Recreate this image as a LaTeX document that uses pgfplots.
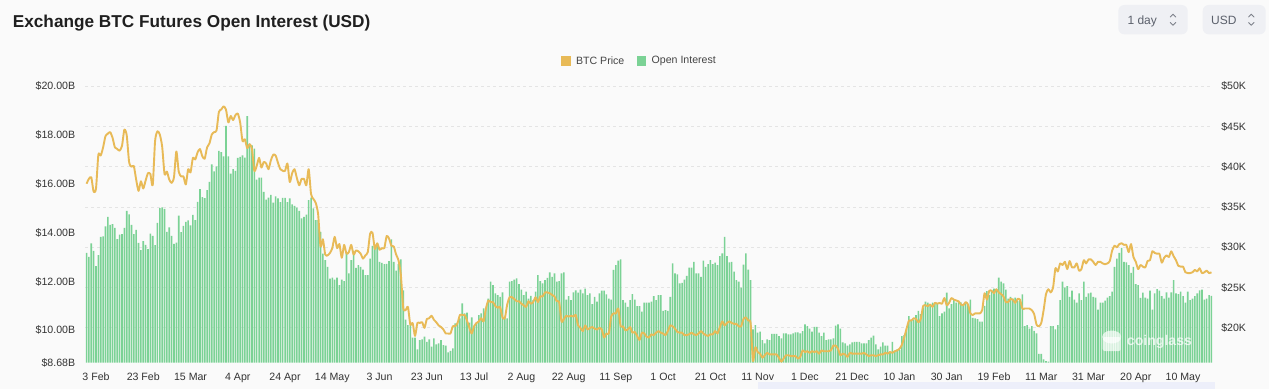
\documentclass[border=0pt]{standalone}
\usepackage{pgfplots}
\usepackage{pgfplotstable}
\pgfplotsset{compat=1.18}
\usepackage{fontspec}
\setmainfont{Liberation Sans}
\definecolor{bg}{HTML}{FAFAFA}
\definecolor{oigreen}{HTML}{7BD295}
\definecolor{btcgold}{HTML}{E8BA57}
\definecolor{gridc}{HTML}{E4E4E4}
\definecolor{tickc}{HTML}{333333}
\definecolor{legc}{HTML}{444444}
\definecolor{titlec}{HTML}{1F1F1F}
\definecolor{btnbg}{HTML}{EFF0F4}
\definecolor{btntxt}{HTML}{5B606B}
\definecolor{band}{HTML}{EDEFFA}
\pgfplotsset{sqlegend/.style={legend image code/.code={\fill[##1] (0pt,-4.65pt) rectangle (9.3pt,4.65pt);}}}
\pgfplotstableread{
oi p
13.17 37.9
13.01 38.5
13.56 38.7
13.25 36.9
12.63 37.3
13.08 41.5
13.83 41.4
13.85 42.4
14.26 43.8
14.65 44.1
14.32 44.3
14.35 43.6
14.20 42.4
13.73 42.2
13.92 42.0
13.94 42.6
14.20 44.6
14.89 43.9
14.75 40.6
14.32 40.0
13.94 40.1
14.11 38.4
13.58 37.0
13.28 38.2
13.65 37.3
13.50 38.3
13.32 39.2
13.96 39.1
13.87 37.7
13.49 43.2
14.40 44.4
15.00 44.0
15.04 42.5
14.97 39.1
14.03 39.4
14.22 38.4
13.87 38.0
13.54 38.7
13.59 41.9
14.70 39.4
14.02 38.8
14.28 38.8
14.44 37.8
14.50 39.7
14.30 39.3
14.73 41.1
14.51 40.9
15.26 41.8
15.78 42.2
15.46 41.3
15.41 41.0
15.74 42.4
16.08 42.9
16.80 44.0
16.51 44.3
16.72 44.5
17.35 46.8
17.30 47.1
17.13 47.5
18.37 47.1
17.13 45.5
16.42 46.3
16.60 45.8
16.53 46.4
17.06 46.6
17.10 45.5
17.17 43.2
17.07 43.4
18.77 42.3
17.65 42.8
17.58 42.2
17.44 39.5
16.17 40.1
16.25 41.1
16.25 39.9
15.67 40.6
15.35 40.4
15.44 39.7
15.55 40.8
15.23 41.5
15.49 41.4
15.40 40.5
15.25 39.7
15.42 39.5
15.42 39.5
15.25 40.4
15.40 38.1
15.16 39.2
15.10 39.7
15.03 38.6
14.89 37.7
14.58 38.5
14.65 38.5
14.74 37.7
15.33 39.7
15.44 36.6
14.99 36.0
14.51 35.5
14.51 34.1
14.03 30.1
13.14 31.0
12.87 29.1
12.60 29.0
12.12 29.3
12.16 29.9
12.08 31.3
12.16 29.9
11.85 30.4
12.08 28.7
12.01 30.3
13.21 29.2
12.33 29.4
12.87 30.3
13.25 29.1
12.56 29.6
12.67 29.5
12.60 29.2
12.49 28.6
12.26 29.0
12.26 29.4
12.94 31.7
13.46 31.8
13.49 29.8
13.56 30.5
12.80 29.7
12.76 29.9
12.71 29.9
12.72 31.4
12.83 31.1
13.72 30.2
12.80 30.1
12.44 29.1
12.71 28.4
12.90 26.6
11.64 22.5
10.44 22.2
10.21 22.6
10.21 20.4
9.70 20.6
9.70 19.0
9.22 20.6
9.60 20.6
9.63 20.7
9.74 20.0
9.53 21.1
9.63 21.2
9.33 21.5
9.67 21.0
9.42 20.7
9.46 20.3
9.60 20.1
9.39 19.8
9.37 19.3
9.09 19.3
9.16 19.3
9.26 20.2
10.28 20.2
10.31 20.6
10.49 21.6
11.10 21.6
10.69 21.6
10.72 20.9
10.31 20.0
10.53 19.3
10.15 20.2
10.28 20.6
10.62 20.8
10.69 21.2
10.90 20.8
10.90 22.4
11.30 23.4
11.99 23.2
11.85 23.2
11.51 22.7
11.44 22.5
11.37 22.6
11.55 21.3
10.49 21.2
10.49 22.9
11.99 23.8
12.01 23.8
12.08 23.6
12.13 23.3
11.89 23.3
11.67 23.0
11.44 22.8
11.58 22.6
11.30 23.3
11.41 23.0
11.24 23.2
11.58 23.8
12.26 23.2
12.01 23.9
11.92 23.9
12.05 24.4
12.15 24.4
12.37 24.3
12.19 24.1
12.33 23.9
11.99 23.3
12.01 23.2
12.33 20.8
12.37 21.1
11.26 21.5
11.40 21.4
11.24 21.5
11.55 21.4
11.64 21.6
11.54 20.3
11.67 20.0
11.51 19.6
11.71 20.3
11.44 19.8
11.51 20.0
11.07 20.1
11.37 19.9
11.17 19.8
11.51 20.0
11.62 19.8
11.62 18.8
11.47 19.3
11.30 19.3
11.26 21.4
12.47 21.8
12.67 21.8
12.85 22.4
12.90 20.2
11.24 20.2
11.13 19.7
10.96 19.8
11.24 20.1
11.48 19.4
11.26 19.5
10.99 19.0
10.99 18.5
10.76 19.4
11.13 19.3
11.13 18.9
11.13 18.8
11.17 19.2
11.40 19.1
11.24 19.4
11.44 19.6
11.44 19.4
10.80 19.3
10.83 19.1
10.80 19.6
11.37 20.3
12.74 20.2
12.33 19.9
12.29 19.5
11.92 19.4
11.94 19.4
12.08 19.1
12.23 19.1
12.57 19.2
12.57 19.4
12.80 19.2
12.33 19.1
12.33 19.3
12.19 19.6
12.85 19.3
12.60 19.1
12.71 19.0
12.87 19.2
12.71 19.2
12.77 19.6
12.67 19.3
13.04 20.1
13.15 20.8
13.83 20.3
13.04 20.6
12.78 20.8
12.80 20.6
12.40 20.5
12.05 20.5
11.99 20.2
11.75 20.2
12.69 21.1
13.15 21.3
12.49 20.9
12.05 20.6
10.04 15.9
10.21 17.6
9.90 17.0
9.94 16.8
9.60 16.3
9.46 16.6
9.63 16.9
9.60 16.7
9.85 16.7
9.85 16.7
9.85 16.7
9.76 16.3
9.67 15.8
9.87 16.2
9.87 16.6
9.83 16.6
9.83 16.5
9.87 16.5
9.91 16.5
9.91 16.2
9.87 16.4
9.97 17.2
10.24 17.0
10.17 17.1
10.07 16.9
9.94 17.1
10.14 17.0
10.14 17.1
9.90 16.8
9.76 17.2
9.90 17.1
9.60 17.1
9.63 17.1
9.63 17.2
9.67 17.8
10.19 17.8
10.24 17.4
10.07 16.6
9.50 16.8
9.46 16.7
9.37 16.4
9.42 16.9
9.50 16.8
9.53 16.8
9.52 16.8
9.53 16.8
9.46 16.8
9.46 16.9
9.46 16.7
9.60 16.5
9.70 16.6
9.78 16.6
9.42 16.5
9.22 16.6
9.33 16.7
9.50 16.7
9.37 16.9
9.37 16.8
9.06 17.0
9.53 16.9
9.12 17.1
9.22 17.2
9.19 17.4
9.76 17.9
9.80 18.8
10.07 19.9
10.58 20.9
10.42 20.9
10.44 21.2
10.62 21.1
10.80 20.7
10.66 21.1
10.92 22.7
11.17 22.8
11.13 22.7
11.07 22.9
11.13 22.6
11.13 23.1
11.07 23.0
10.58 23.1
10.69 23.0
10.76 23.7
11.54 22.8
10.90 23.1
11.07 23.7
11.26 23.5
11.13 23.4
11.17 23.3
11.14 22.9
11.03 22.8
11.10 23.2
11.07 22.9
11.26 21.8
10.51 21.6
10.49 21.8
10.46 21.8
10.35 21.8
10.35 22.2
11.00 24.3
11.60 23.5
11.44 24.6
11.60 24.6
11.71 24.3
11.64 24.8
12.16 24.4
11.99 24.2
11.92 23.9
11.67 23.2
11.30 23.2
11.37 23.6
11.30 23.5
11.34 23.1
11.21 23.6
11.24 23.5
11.47 22.4
10.17 22.4
10.21 22.4
10.07 22.4
10.17 22.2
9.98 21.7
9.87 20.4
9.03 20.2
9.03 20.6
8.81 22.2
8.74 24.2
8.72 24.8
10.17 24.4
10.17 25.0
10.04 27.4
10.21 27.0
11.24 28.0
11.99 27.8
11.75 28.2
11.81 27.3
11.37 28.3
11.62 27.5
11.26 27.5
11.13 28.0
11.51 27.1
11.24 27.3
11.99 28.4
11.37 28.0
11.51 28.5
11.54 28.5
11.37 28.2
11.34 27.8
10.85 28.2
11.13 28.2
11.13 28.0
11.21 27.9
11.34 28.0
11.40 28.3
11.58 29.6
12.60 30.2
12.94 30.0
13.17 30.4
13.38 30.5
12.80 30.3
12.78 30.3
12.67 29.4
12.35 30.4
12.60 28.8
11.89 28.2
11.85 27.3
11.33 27.8
11.54 27.6
11.34 27.5
11.30 28.3
11.62 28.4
10.85 29.5
11.51 29.3
11.69 29.2
11.62 29.2
11.40 28.1
11.30 28.7
11.55 29.0
11.34 28.8
11.55 29.5
12.05 28.9
11.51 28.4
11.48 27.7
11.58 27.6
11.40 27.6
11.13 26.9
11.58 26.8
11.24 26.8
11.30 26.9
11.40 27.2
11.51 27.0
11.64 27.4
11.67 26.8
11.26 26.9
11.30 27.1
11.44 26.8
11.41 26.9
}\data
\begin{document}
\begin{tikzpicture}[x=1pt,y=1pt]
\useasboundingbox (0,0) rectangle (1269,389);
\fill[bg] (0,0) rectangle (1269,389);
\fill[band] (758.3,0) rectangle (1215,7.3);
\node[anchor=base west, inner sep=0pt, font=\fontsize{17.2}{20}\selectfont\bfseries, text=titlec] at (12.7,361.3) {Exchange BTC Futures Open Interest (USD)};
% selector buttons
\fill[btnbg, rounded corners=6pt] (1118.3,354.7) rectangle (1187.7,384);
\fill[btnbg, rounded corners=6pt] (1202.7,354.7) rectangle (1265.7,384);
\node[anchor=base west, inner sep=0pt, font=\fontsize{12}{14}\selectfont, text=btntxt] at (1127.3,364.2) {1 day};
\node[anchor=base west, inner sep=0pt, font=\fontsize{12}{14}\selectfont, text=btntxt] at (1211,364.2) {USD};
\draw[btntxt!80, line width=0.9pt, line cap=round, line join=round] (1170.3,372) -- (1173,374.8) -- (1175.7,372);
\draw[btntxt!80, line width=0.9pt, line cap=round, line join=round] (1170.3,366.5) -- (1173,363.7) -- (1175.7,366.5);
\draw[btntxt!80, line width=0.9pt, line cap=round, line join=round] (1248.6,372) -- (1251.3,374.8) -- (1254,372);
\draw[btntxt!80, line width=0.9pt, line cap=round, line join=round] (1248.6,366.5) -- (1251.3,363.7) -- (1254,366.5);

\begin{axis}[
  at={(85.37pt,26.5pt)}, anchor=south west,
  scale only axis, width=1127.2pt, height=276.3pt,
  xmin=-4.5, xmax=472.5, ymin=8.68, ymax=20,
  axis line style={draw=none}, tick style={draw=none},
  xtick={0,20,...,460},
  xticklabels={3 Feb,23 Feb,15 Mar,4 Apr,24 Apr,14 May,3 Jun,23 Jun,13 Jul,2 Aug,22 Aug,11 Sep,1 Oct,21 Oct,11 Nov,1 Dec,21 Dec,10 Jan,30 Jan,19 Feb,11 Mar,31 Mar,20 Apr,10 May},
  ytick={8.68,10,12,14,16,18,20},
  yticklabels={\$8.68B,\$10.00B,\$12.00B,\$14.00B,\$16.00B,\$18.00B,\$20.00B},
  extra y ticks={10.0991,11.7493,13.3994,15.0496,16.6997,18.3498,20},
  extra y tick labels={},
  extra y tick style={grid=major, major grid style={gridc, dash pattern=on 3pt off 3pt, line width=0.8pt}},
  tick label style={font=\fontsize{10.6}{12}\selectfont, text=tickc},
  xticklabel style={anchor=base, inner sep=0pt, yshift=-17.5pt},
  yticklabel style={anchor=east, inner sep=0pt, xshift=-10pt},
  legend columns=2,
  legend style={at={(0.4222,1.0912)}, anchor=west, draw=none, fill=none, inner sep=0pt,
    font=\fontsize{10.6}{12}\selectfont, text=legc, nodes={inner sep=0pt},
    /tikz/every odd column/.append style={column sep=5.3pt},
    /tikz/every even column/.append style={column sep=12.7pt}},
]
\addlegendimage{fill=btcgold, draw=none, sqlegend}
\addlegendentry{BTC Price}
\addplot[ybar, bar width=1.6pt, fill=oigreen, draw=none, sqlegend]
  table[x expr=\coordindex-4, y=oi] {\data};
\addlegendentry{Open Interest}
\end{axis}

\begin{axis}[
  at={(85.37pt,26.5pt)}, anchor=south west,
  scale only axis, width=1127.2pt, height=276.3pt,
  xmin=-4.5, xmax=472.5, ymin=15.7, ymax=50,
  axis x line=none, axis y line*=right,
  axis line style={draw=none}, tick style={draw=none},
  ytick={20,25,30,35,40,45,50},
  yticklabels={\$20K,\$25K,\$30K,\$35K,\$40K,\$45K,\$50K},
  tick label style={font=\fontsize{10.6}{12}\selectfont, text=tickc},
  yticklabel style={anchor=west, inner sep=0pt, xshift=8.5pt},
]
\addplot[btcgold, line width=1.9pt, line join=round, smooth, tension=0.4] table[x expr=\coordindex-4, y=p] {\data};
\end{axis}

% watermark
\fill[white, opacity=0.7] (1111.7,52) ellipse (9.5 and 6.5);
\fill[white, opacity=0.7, rounded corners=2pt] (1102.7,38) rectangle (1120.7,52);
\node[anchor=base west, inner sep=0pt, font=\fontsize{14.1}{16}\selectfont\bfseries, text=white, opacity=0.75] at (1126.7,43.5) {coinglass};
\end{tikzpicture}
\end{document}
